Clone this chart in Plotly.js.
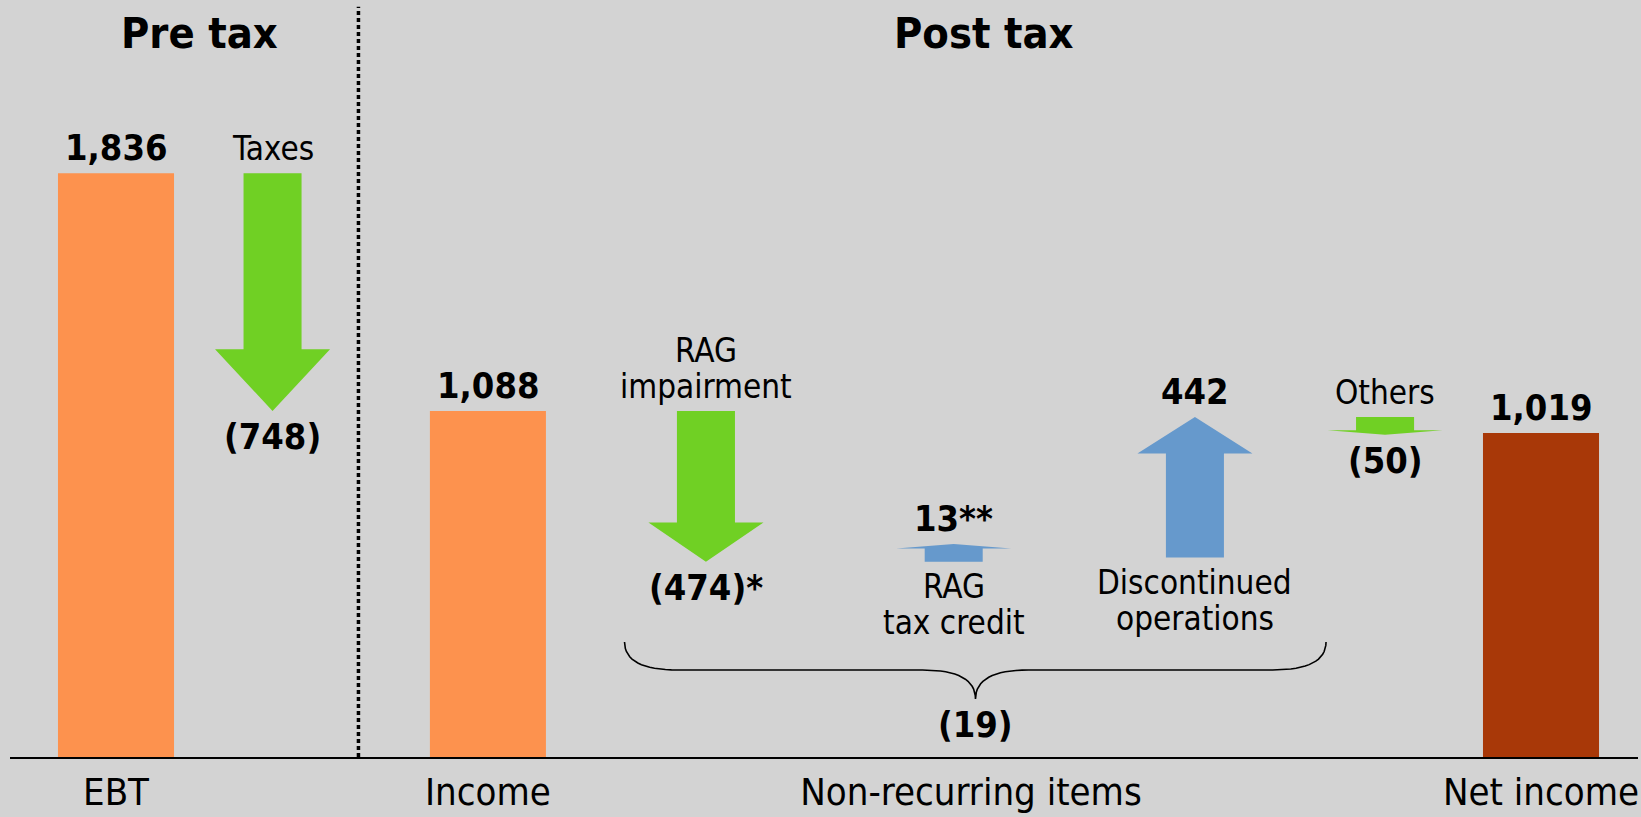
<!DOCTYPE html>
<html>
<head>
<meta charset="utf-8">
<script src="https://cdn.plot.ly/plotly-3.0.1.min.js"></script>
<style>
html,body{margin:0;padding:0;background:#D3D3D3;overflow:hidden}
#chart{width:1641px;height:817px}
</style>
</head>
<body>
<div id="chart"></div>
<script>
// ---------------- data ----------------
const steps = ['EBT', 'Taxes', 'Income', 'RAG impairment', 'RAG tax credit', 'Discontinued operations', 'Others', 'Net income'];
const stepKinds = ['total', 'delta', 'total', 'delta', 'delta', 'delta', 'delta', 'total'];
const stepValues = [1836, -748, 1088, -474, 13, 442, -50, 1019];
const valueLabels = ['1,836', '(748)', '1,088', '(474)*', '13**', '442', '(50)', '1,019'];
const stepNames = ['', 'Taxes', '', 'RAG\nimpairment', 'RAG\ntax credit', 'Discontinued\noperations', 'Others', ''];
const categoryLabels = ['EBT', 'Income', 'Non-recurring items', 'Net income'];
const sectionTitles = ['Pre tax', 'Post tax'];
const nonRecurringSteps = [3, 4, 5];

// ---------------- layout / style ----------------
const slotX = [0, 0.769, 1.827, 2.898, 4.115, 5.300, 6.234, 7.0];
const categoryX = [0, 1.827, 4.2, 7.0];
const sectionTitleX = [0.408, 4.266];
const separatorX = 1.191;
const braceSpan = [2.498, 5.944];
const braceTipX = 4.222;

const FONT = '"DejaVu Sans Condensed", "Liberation Sans Narrow", "DejaVu Sans", sans-serif';
const BG = '#D3D3D3';
const ORANGE = '#FD924E';
const FINAL = '#A83808';
const GREEN = '#70D024';
const BLUE = '#6699CC';

const PX_PER_UNIT = 0.318;
const PLOT_H = 757;
const Y_MAX = PLOT_H / PX_PER_UNIT;
// brace heights expressed in pixels above the baseline, converted to axis units
const braceY = [115, 87, 58].map(p => p / PX_PER_UNIT);   // end, middle, tip
const BAR_W = 0.57;
const HEAD_HALF = 0.2825;
const SHAFT_HALF = 0.1425;
const HEAD_FRAC = 0.26;
const MIN_ARROW = 56;
const LINE_H = 36;
const GAP_ABOVE = 3;
const GAP_BELOW = 3;

const traces = [];
const annotations = [];

function fmtNeg(v) {
  const s = Math.abs(v).toLocaleString('en-US');
  return v < 0 ? '(' + s + ')' : s;
}

function addText(text, x, y, side, bold, size) {
  const lines = text.split('\n');
  const n = lines.length;
  lines.forEach((t, j) => {
    const shift = side === 'above' ? GAP_ABOVE + LINE_H * (n - 1 - j) : -(GAP_BELOW + LINE_H * j);
    annotations.push({
      x: x, y: y, xref: 'x', yref: 'y',
      text: bold ? '<b>' + t + '</b>' : t,
      showarrow: false,
      xanchor: 'center',
      yanchor: side === 'above' ? 'bottom' : 'top',
      yshift: shift,
      font: {family: FONT, size: size, color: '#000000'}
    });
  });
}

const barX = [], barY = [], barColor = [];
let running = 0;
stepValues.forEach((v, i) => {
  const c = slotX[i];
  if (stepKinds[i] === 'total') {
    running = v;
    barX.push(c); barY.push(v);
    barColor.push(i === steps.length - 1 ? FINAL : ORANGE);
    addText(valueLabels[i], c, v, 'above', true, 36);
  } else {
    const start = running;
    const dir = Math.sign(v);
    const len = Math.max(Math.abs(v), MIN_ARROW);
    const end = start + dir * len;
    running = start + v;
    const headBase = end - dir * len * HEAD_FRAC;
    traces.push({
      type: 'scatter', mode: 'lines',
      x: [c - SHAFT_HALF, c + SHAFT_HALF, c + SHAFT_HALF, c + HEAD_HALF, c, c - HEAD_HALF, c - SHAFT_HALF, c - SHAFT_HALF],
      y: [start, start, headBase, headBase, end, headBase, headBase, start],
      fill: 'toself', fillcolor: dir < 0 ? GREEN : BLUE,
      line: {width: 0, color: dir < 0 ? GREEN : BLUE},
      hoverinfo: 'skip', showlegend: false
    });
    const top = Math.max(start, end), bottom = Math.min(start, end);
    if (dir < 0) {
      addText(stepNames[i], c, top, 'above', false, 33);
      addText(valueLabels[i], c, bottom, 'below', true, 36);
    } else {
      addText(valueLabels[i], c, top, 'above', true, 36);
      addText(stepNames[i], c, bottom, 'below', false, 33);
    }
  }
});

traces.unshift({
  type: 'bar', x: barX, y: barY, width: BAR_W,
  marker: {color: barColor, line: {width: 0}},
  hoverinfo: 'skip', showlegend: false
});

// brace under the non-recurring items
function quad(p0, p1, p2, n) {
  const pts = [];
  for (let s = 0; s <= n; s++) {
    const t = s / n;
    pts.push([
      (1 - t) * (1 - t) * p0[0] + 2 * (1 - t) * t * p1[0] + t * t * p2[0],
      (1 - t) * (1 - t) * p0[1] + 2 * (1 - t) * t * p1[1] + t * t * p2[1]
    ]);
  }
  return pts;
}
const [bL, bR] = braceSpan;
const [yEnd, yMid, yTip] = braceY;
const endW = 0.262, tipW = 0.26;
let bracePts = [];
bracePts = bracePts.concat(quad([bL, yEnd], [bL, yMid], [bL + endW, yMid], 16));
bracePts = bracePts.concat(quad([braceTipX - tipW, yMid], [braceTipX, yMid], [braceTipX, yTip], 16));
bracePts = bracePts.concat(quad([braceTipX, yTip], [braceTipX, yMid], [braceTipX + tipW, yMid], 16));
bracePts = bracePts.concat(quad([bR - endW, yMid], [bR, yMid], [bR, yEnd], 16));
traces.push({
  type: 'scatter', mode: 'lines',
  x: bracePts.map(p => p[0]), y: bracePts.map(p => p[1]),
  line: {color: '#000000', width: 1.6},
  hoverinfo: 'skip', showlegend: false
});
const nonRecurringSum = nonRecurringSteps.reduce((a, i) => a + stepValues[i], 0);
addText(fmtNeg(nonRecurringSum), braceTipX, yTip, 'below', true, 36);

// section titles
sectionTitles.forEach((t, i) => {
  annotations.push({
    x: sectionTitleX[i], y: 1, xref: 'x', yref: 'paper',
    text: '<b>' + t + '</b>', showarrow: false,
    xanchor: 'center', yanchor: 'top', yshift: -6,
    font: {family: FONT, size: 43, color: '#000000'}
  });
});

const layout = {
  width: 1641, height: 817,
  margin: {l: 10, r: 3, t: 0, b: 60, pad: 0},
  paper_bgcolor: BG, plot_bgcolor: BG,
  showlegend: false,
  xaxis: {
    range: [-0.5207, 7.4765], fixedrange: true,
    tickvals: categoryX, ticktext: categoryLabels,
    tickfont: {family: FONT, size: 38, color: '#000000'},
    ticks: '', showgrid: false, zeroline: false,
    showline: true, linecolor: '#000000', linewidth: 2
  },
  yaxis: {
    range: [0, Y_MAX], fixedrange: true, visible: false,
    showgrid: false, zeroline: false
  },
  shapes: [{
    type: 'line', xref: 'x', yref: 'paper',
    x0: separatorX, x1: separatorX, y0: 0, y1: 0.991,
    line: {color: '#000000', width: 3.5, dash: '4px,3px'}
  }],
  annotations: annotations
};

Plotly.newPlot('chart', traces, layout, {displayModeBar: false, staticPlot: true});
</script>
</body>
</html>
